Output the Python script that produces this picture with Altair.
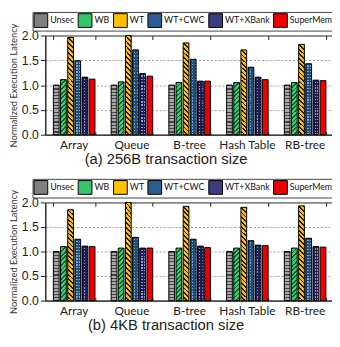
import altair as alt
import pandas as pd

categories = ["Array", "Queue", "B-tree", "Hash Table", "RB-tree"]
series = ["Unsec", "WB", "WT", "WT+CWC", "WT+XBank", "SuperMem"]

# (a) 256B transaction size
unsec_256 = [1.00, 1.00, 1.00, 1.00, 1.00]
wb_256 = [1.11, 1.065, 1.05, 1.05, 1.05]
wt_256 = [1.96, 2.00, 1.85, 1.71, 1.82]
cwc_256 = [1.49, 1.71, 1.52, 1.36, 1.43]
xbank_256 = [1.16, 1.23, 1.08, 1.16, 1.10]
supermem_256 = [1.12, 1.18, 1.08, 1.11, 1.09]

# (b) 4KB transaction size
unsec_4k = [1.00, 1.00, 1.00, 1.00, 1.00]
wb_4k = [1.10, 1.07, 1.07, 1.07, 1.07]
wt_4k = [1.85, 2.00, 1.92, 1.90, 1.93]
cwc_4k = [1.25, 1.29, 1.25, 1.22, 1.27]
xbank_4k = [1.11, 1.07, 1.11, 1.13, 1.10]
supermem_4k = [1.10, 1.07, 1.08, 1.12, 1.09]

base_colors = ["#808080", "#35c46a", "#ffc000", "#2c5d8f", "#3b3b80", "#ee0000"]

PLOT_W = 294
BAR_W = 5.8


def stripe_stops(line, base, n, frac):
    stops = []
    for i in range(n):
        a = round(i / n, 4)
        m = round((i + frac) / n, 4)
        b = round((i + 1) / n, 4)
        stops += [{"offset": a, "color": line}, {"offset": m, "color": line},
                  {"offset": m, "color": base}, {"offset": b, "color": base}]
    return stops


def vert_grad(line, base, n, frac):
    return {"gradient": "linear", "x1": 0, "y1": 0, "x2": 0, "y2": 1,
            "stops": stripe_stops(line, base, n, frac)}


def horiz_grad(line, base, n, frac):
    return {"gradient": "linear", "x1": 0, "y1": 0, "x2": 1, "y2": 0,
            "stops": stripe_stops(line, base, n, frac)}


def diag_grad(line, base, n, frac, h, up=True):
    a = BAR_W / h
    q = (1 + a) / (1 + a * a)
    p = a * q
    if up:
        x1, x2 = 0, p
    else:
        x1, x2 = 1, 1 - p
    return {"gradient": "linear", "x1": x1, "y1": 0, "x2": round(x2, 4), "y2": round(q, 4),
            "stops": stripe_stops(line, base, n, frac)}


def panel(vals, title, h, ly):
    rows = []
    for s, arr in zip(series, vals):
        for c, v in zip(categories, arr):
            rows.append({"cat": c, "series": s, "val": v})
    df = pd.DataFrame(rows)
    mean = {s: sum(a) / len(a) for s, a in zip(series, vals)}

    xs = alt.Scale(domain=categories, paddingInner=0.28, paddingOuter=0.14)
    xo = alt.XOffset("series:N", scale=alt.Scale(domain=series, paddingInner=0.2, paddingOuter=0))
    ys = alt.Scale(domain=[0, 2], nice=False, clamp=True)

    def enc(xaxis, yaxis):
        return dict(x=alt.X("cat:N", scale=xs, axis=xaxis),
                    xOffset=xo,
                    y=alt.Y("val:Q", scale=ys, axis=yaxis))

    y_axis = alt.Axis(values=[0, 0.5, 1, 1.5, 2], format=".1f", tickSize=5, tickColor="#222",
                      domainColor="#222", labelFont="Liberation Sans", labelFontSize=12.5,
                      labelColor="#222", labelPadding=2, gridColor="#999", gridDash=[2, 2],
                      title="Normalized Execution Latency", titleFont="Lato", titleFontSize=9.5,
                      titleFontWeight="normal", titleColor="#333", titlePadding=3)
    x_main = alt.Axis(title=None, labelAngle=0, ticks=False, domain=True, domainColor="#222",
                      grid=False, labelFont="Lato", labelFontSize=12, labelColor="#222",
                      labelPadding=5)
    x_top_ticks = alt.Axis(orient="bottom", offset=-h, labels=False, domain=False, ticks=True,
                           tickBand="extent", tickSize=4, tickColor="#222", grid=False, title=None)
    x_bot_ticks = alt.Axis(orient="top", offset=-h, labels=False, domain=False, ticks=True,
                           tickBand="extent", tickSize=3, tickColor="#222", grid=False, title=None)

    base = alt.Chart(df)
    legend = alt.Legend(orient="none", legendX=-13, legendY=ly, direction="horizontal", columns=6,
                        title=None, symbolType="square", symbolSize=196, symbolStrokeColor="black",
                        symbolStrokeWidth=1, labelFont="Lato", labelFontSize=9, labelColor="#111",
                        labelOffset=2, columnPadding=1, padding=1, strokeColor="#444",
                        fillColor="white")
    bars = base.mark_bar(strokeWidth=0).encode(
        **enc(x_main, y_axis),
        color=alt.Color("series:N", scale=alt.Scale(domain=series, range=base_colors), legend=legend),
    )

    def sel(s):
        return base.transform_filter(alt.datum.series == s)

    px = lambda s: mean[s] * h / 2
    unsec = sel("Unsec").mark_bar(fill=vert_grad("#454545", "#a8a8a8", 15, 0.35)).encode(**enc(None, None))
    wb = sel("WB").mark_bar(fill=diag_grad("#15602f", "#3dcc70", int(round((px("WB") + BAR_W) / 4.5)), 0.4, px("WB"), up=True)).encode(**enc(None, None))
    wt = sel("WT").mark_bar(fill=diag_grad("#1a1a1a", "#ffc000", int(round((px("WT") + BAR_W) / 4.8)), 0.38, px("WT"), up=False)).encode(**enc(None, None))
    cwc_c = sel("WT+CWC").mark_bar(fill=horiz_grad("#1f4e79", "#6fa8dc", 2, 0.55)).encode(**enc(None, None))
    cwc_r = sel("WT+CWC").mark_bar(fill=vert_grad("#1f4e79", "rgba(0,0,0,0)", int(round(px("WT+CWC") / 3)), 0.55)).encode(**enc(x_bot_ticks, None))
    xb_c = sel("WT+XBank").mark_bar(fill=horiz_grad("#1e1e50", "#9494e0", 2, 0.55)).encode(**enc(None, None))
    xb_r = sel("WT+XBank").mark_bar(fill=vert_grad("#1e1e50", "rgba(0,0,0,0)", int(round(px("WT+XBank") / 3)), 0.55)).encode(**enc(None, None))
    outline = base.mark_bar(fillOpacity=0, stroke="black", strokeWidth=1).encode(**enc(x_top_ticks, None))

    return alt.layer(bars, unsec, wb, wt, cwc_c, cwc_r, xb_c, xb_r, outline).resolve_axis(
        x="independent", y="independent").properties(
        width=PLOT_W, height=h,
        title=alt.TitleParams(title, orient="bottom", anchor="middle", frame="group", dx=-24,
                              offset=2, font="Liberation Sans", fontSize=15, fontWeight="normal",
                              color="#222"))


top = panel([unsec_256, wb_256, wt_256, cwc_256, xbank_256, supermem_256],
            "(a) 256B transaction size", 101, -24)
bottom = panel([unsec_4k, wb_4k, wt_4k, cwc_4k, xbank_4k, supermem_4k],
               "(b) 4KB transaction size", 100, -24)

chart = alt.vconcat(top, bottom, spacing=10).resolve_scale(color="independent").configure_view(
    stroke="#222", strokeWidth=1).properties(padding={"left": 0, "top": 0, "right": -3, "bottom": -2})

chart.save("out.html", embed_options={"renderer": "svg", "actions": False})
